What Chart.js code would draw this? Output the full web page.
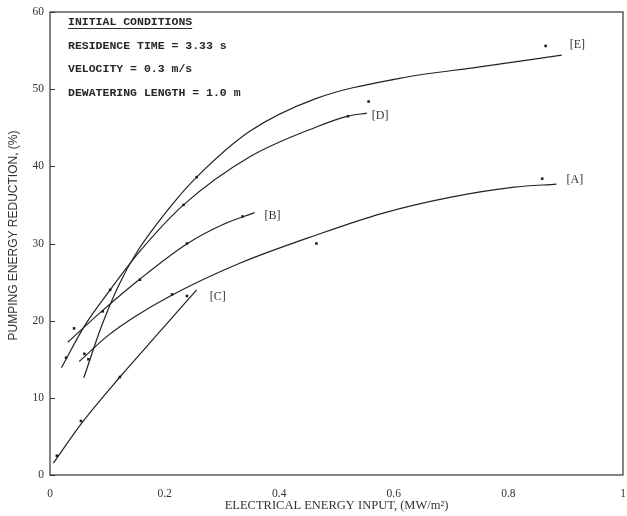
<!DOCTYPE html>
<html>
<head>
<meta charset="utf-8">
<script src="https://cdn.jsdelivr.net/npm/chart.js@4.4.1/dist/chart.umd.min.js"></script>
<style>
  html, body { margin: 0; padding: 0; background: #fff; }
  #wrap { width: 627px; height: 516px; position: relative; }
</style>
</head>
<body>
<div id="wrap"><canvas id="chart"></canvas></div>
<script>
// ---------- data ----------
// fitted curves (x = MW/m2, y = %)
var curveAx = [0.051, 0.10, 0.15, 0.21, 0.33, 0.465, 0.58, 0.70, 0.81, 0.884];
var curveAy = [14.7, 18.0, 20.6, 23.2, 27.4, 31.1, 33.9, 36.0, 37.3, 37.7];
var curveBx = [0.031, 0.09, 0.157, 0.24, 0.30, 0.357];
var curveBy = [17.2, 21.2, 25.4, 30.0, 32.4, 34.0];
var curveCx = [0.006, 0.054, 0.122, 0.192, 0.256];
var curveCy = [1.55, 6.6, 12.7, 18.6, 24.0];
var curveDx = [0.020, 0.06, 0.105, 0.157, 0.233, 0.348, 0.465, 0.52, 0.553];
var curveDy = [13.9, 19.3, 24.0, 29.0, 35.0, 41.2, 45.1, 46.5, 46.9];
var curveEx = [0.059, 0.09, 0.12, 0.151, 0.215, 0.256, 0.348, 0.465, 0.61, 0.75, 0.893];
var curveEy = [12.6, 19.3, 24.6, 28.8, 35.2, 38.6, 44.5, 48.8, 51.4, 52.9, 54.4];

// measured points
var pointsAx = [0.06, 0.213, 0.465, 0.859];
var pointsAy = [15.7, 23.4, 30.0, 38.4];
var pointsBx = [0.042, 0.092, 0.157, 0.239, 0.336];
var pointsBy = [19.0, 21.2, 25.3, 30.0, 33.5];
var pointsCx = [0.012, 0.054, 0.122, 0.239];
var pointsCy = [2.5, 7.0, 12.7, 23.2];
var pointsDx = [0.028, 0.105, 0.233, 0.52];
var pointsDy = [15.2, 24.0, 35.0, 46.5];
var pointsEx = [0.067, 0.256, 0.556, 0.865];
var pointsEy = [15.0, 38.6, 48.4, 55.6];

var seriesNames = ["[A]", "[B]", "[C]", "[D]", "[E]"];
var xTicks = [0, 0.2, 0.4, 0.6, 0.8, 1];
var yTicks = [0, 10, 20, 30, 40, 50, 60];
var yTitle = "PUMPING ENERGY REDUCTION, (%)";

var conditions = [
  "INITIAL CONDITIONS",
  "RESIDENCE TIME = 3.33 s",
  "VELOCITY = 0.3 m/s",
  "DEWATERING LENGTH = 1.0 m"
];

function toXY(xs, ys) {
  return xs.map(function(x, i) { return { x: x, y: ys[i] }; });
}

var ink = "#222";

function curve(xs, ys) {
  return {
    data: toXY(xs, ys),
    showLine: true,
    borderColor: ink,
    borderWidth: 1.2,
    pointRadius: 0,
    cubicInterpolationMode: "monotone",
    fill: false
  };
}

function marks(xs, ys) {
  return {
    data: toXY(xs, ys),
    showLine: false,
    pointStyle: "rect",
    pointRadius: 1.8,
    pointBackgroundColor: "#1a1a1a",
    pointBorderColor: "#1a1a1a",
    pointBorderWidth: 0
  };
}

// label sits next to the end of each fitted curve (pixel nudges)
var curveEnds = [
  [curveAx, curveAy, 10, -4],
  [curveBx, curveBy, 10, 3],
  [curveCx, curveCy, 13, 7],
  [curveDx, curveDy, 5, 3],
  [curveEx, curveEy, 8, -10]
];

var decor = {
  id: "decor",
  afterDraw: function(chart) {
    var ctx = chart.ctx;
    var area = chart.chartArea;
    var xs = chart.scales.x;
    var ys = chart.scales.y;
    ctx.save();

    // frame
    ctx.strokeStyle = "#333";
    ctx.lineWidth = 1.2;
    ctx.strokeRect(area.left, area.top, area.right - area.left, area.bottom - area.top);

    // inward y ticks
    ctx.lineWidth = 1;
    yTicks.forEach(function(v) {
      var py = Math.round(ys.getPixelForValue(v)) + 0.5;
      ctx.beginPath();
      ctx.moveTo(area.left, py);
      ctx.lineTo(area.left + 5, py);
      ctx.stroke();
    });

    // y axis title (sits a little above centre, as in the figure)
    ctx.save();
    ctx.translate(14, ys.getPixelForValue(30) - 8);
    ctx.rotate(-Math.PI / 2);
    ctx.fillStyle = "#333";
    ctx.font = "12px 'Liberation Sans', sans-serif";
    ctx.textAlign = "center";
    ctx.textBaseline = "middle";
    ctx.fillText(yTitle, 0, 0);
    ctx.restore();

    // series labels
    ctx.fillStyle = "#333";
    ctx.font = "12px 'Liberation Serif', serif";
    ctx.textBaseline = "middle";
    ctx.textAlign = "left";
    curveEnds.forEach(function(c, i) {
      var n = c[0].length - 1;
      var px = xs.getPixelForValue(c[0][n]) + c[2];
      var py = ys.getPixelForValue(c[1][n]) + c[3];
      ctx.fillText(seriesNames[i], px, py);
    });

    // initial conditions block
    ctx.font = "bold 11.5px 'Liberation Mono', monospace";
    ctx.fillStyle = "#262626";
    var tx = area.left + 18;
    conditions.forEach(function(t, i) {
      ctx.fillText(t, tx, area.top + 10 + i * 23.7);
    });
    var w = ctx.measureText(conditions[0]).width;
    ctx.beginPath();
    ctx.lineWidth = 1;
    ctx.moveTo(tx, area.top + 16.5);
    ctx.lineTo(tx + w, area.top + 16.5);
    ctx.stroke();

    ctx.restore();
  }
};

var ctx = document.getElementById("chart").getContext("2d");
var chart = new Chart(ctx, {
  type: "scatter",
  data: {
    datasets: [
      curve(curveAx, curveAy), curve(curveBx, curveBy), curve(curveCx, curveCy),
      curve(curveDx, curveDy), curve(curveEx, curveEy),
      marks(pointsAx, pointsAy), marks(pointsBx, pointsBy), marks(pointsCx, pointsCy),
      marks(pointsDx, pointsDy), marks(pointsEx, pointsEy)
    ]
  },
  options: {
    responsive: true,
    maintainAspectRatio: false,
    animation: false,
    layout: { padding: { top: 12, right: 3, left: 0, bottom: 0 } },
    plugins: {
      legend: { display: false },
      tooltip: { enabled: false }
    },
    scales: {
      x: {
        type: "linear",
        min: 0,
        max: 1,
        afterFit: function(scale) {
          scale.height = 41;
          scale.paddingLeft = 0;
          scale.paddingRight = 0;
        },
        afterBuildTicks: function(scale) {
          scale.ticks = xTicks.map(function(v) { return { value: v }; });
        },
        grid: { display: false, drawTicks: false },
        border: { display: false },
        ticks: {
          padding: 12,
          color: "#333",
          font: { family: "'Liberation Serif', serif", size: 11.5 },
          maxRotation: 0,
          callback: function(value) { return String(Math.round(value * 10) / 10); }
        },
        title: {
          display: true,
          text: "ELECTRICAL ENERGY INPUT, (MW/m\u00B2)",
          color: "#333",
          font: { family: "'Liberation Serif', serif", size: 12.5 },
          padding: { top: 0, bottom: 3 }
        }
      },
      y: {
        type: "linear",
        min: 0,
        max: 60,
        afterFit: function(scale) {
          scale.width = 50;
          scale.paddingTop = 0;
          scale.paddingBottom = 0;
        },
        afterBuildTicks: function(scale) {
          scale.ticks = yTicks.map(function(v) { return { value: v }; });
        },
        grid: { display: false, drawTicks: false },
        border: { display: false },
        ticks: {
          padding: 6,
          color: "#333",
          font: { family: "'Liberation Serif', serif", size: 11.5 }
        },
        title: { display: false }
      }
    }
  },
  plugins: [decor]
});
</script>
</body>
</html>
